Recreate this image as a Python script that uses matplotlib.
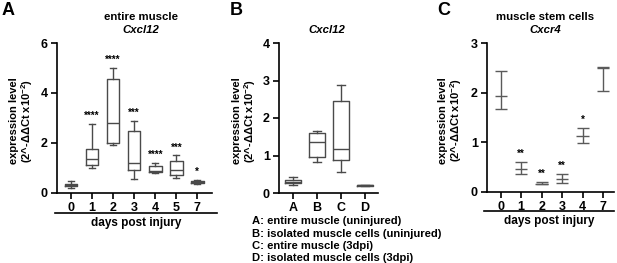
import numpy as np
import matplotlib
matplotlib.use('Agg')
import matplotlib.pyplot as plt

plt.rcParams['font.family'] = ['Liberation Sans', 'DejaVu Sans']
plt.rcParams['font.weight'] = 'bold'
plt.rcParams['mathtext.default'] = 'regular'

# Panel A: entire muscle, Cxcl12 (box plots)
a_days = ['0', '1', '2', '3', '4', '5', '7']
a_wlo = [0.20, 1.00, 1.90, 0.55, 0.80, 0.60, 0.35]
a_q1 = [0.25, 1.12, 2.00, 0.90, 0.82, 0.70, 0.38]
a_med = [0.30, 1.35, 2.78, 1.18, 0.85, 0.92, 0.42]
a_q3 = [0.35, 1.75, 4.55, 2.45, 1.08, 1.28, 0.45]
a_whi = [0.45, 2.75, 5.00, 2.88, 1.20, 1.50, 0.50]
a_stars = ['', '****', '****', '***', '****', '***', '*']

# Panel B: Cxcl12 comparison (box plots)
b_groups = ['A', 'B', 'C', 'D']
b_wlo = [0.22, 0.83, 0.55, 0.19]
b_q1 = [0.27, 0.97, 0.88, 0.20]
b_med = [0.30, 1.35, 1.18, 0.205]
b_q3 = [0.35, 1.60, 2.45, 0.21]
b_whi = [0.42, 1.66, 2.88, 0.22]
b_legend = ['A: entire muscle (uninjured)',
            'B: isolated muscle cells (uninjured)',
            'C: entire muscle (3dpi)',
            'D: isolated muscle cells (3dpi)']

# Panel C: muscle stem cells, Cxcr4 (mean with range)
c_days = ['0', '1', '2', '3', '4', '7']
c_mean = [1.93, 0.47, 0.17, 0.27, 1.12, 2.49]
c_lo = [1.67, 0.37, 0.16, 0.19, 0.98, 2.04]
c_hi = [2.43, 0.61, 0.20, 0.37, 1.29, 2.51]
c_stars = ['', '**', '**', '**', '*', '']

ylab = 'expression level\n(2^-ΔΔCt x10$^{-2}$)'
box_col = '#4a4a4a'
c_col = '#5a5a5a'


def stats(wlo, q1, med, q3, whi):
    return [dict(whislo=w0, q1=a, med=m, q3=b, whishi=w1, fliers=[])
            for w0, a, m, b, w1 in zip(wlo, q1, med, q3, whi)]


def style(ax, labx):
    ax.spines['top'].set_visible(False)
    ax.spines['right'].set_visible(False)
    ax.spines['left'].set_linewidth(1.2)
    ax.spines['bottom'].set_linewidth(1.2)
    ax.tick_params(width=1.2, length=4, labelsize=9, pad=2.5)
    for lab in ax.get_xticklabels() + ax.get_yticklabels():
        lab.set_fontweight('bold')
    ax.set_ylabel(ylab, fontsize=8, fontweight='bold', linespacing=1.0)
    ax.yaxis.set_label_coords(labx, 0.48)


def underline(ax, x0, x1, y, label):
    ax.plot([x0, x1], [y, y], transform=ax.transAxes, color='black',
            lw=1.2, clip_on=False)
    ax.text((x0 + x1) / 2, y - 0.025, label, transform=ax.transAxes,
            ha='center', va='top', fontsize=8.5, fontweight='bold')


def titles(ax, xc, top, bottom):
    if top:
        ax.text(xc, 1.155, top, transform=ax.transAxes, ha='center',
                fontsize=8.2, fontweight='bold')
    ax.text(xc, 1.065, bottom, transform=ax.transAxes, ha='center',
            fontsize=8.2, fontweight='bold', style='italic')


fig = plt.figure(figsize=(6.17, 2.63), dpi=100)

# ---- A
axA = fig.add_axes([57 / 617, 1 - 192.5 / 263, 155 / 617, 149.5 / 263])
pos = np.arange(len(a_days))
lp = dict(color=box_col, lw=1.0)
axA.bxp(stats(a_wlo, a_q1, a_med, a_q3, a_whi), positions=pos, widths=0.6,
        boxprops=lp, whiskerprops=lp, capprops=lp, medianprops=lp,
        capwidths=0.3, showfliers=False)
for x, top, s in zip(pos, a_whi, a_stars):
    if s:
        axA.annotate(s, (x, top), xytext=(0, 2), textcoords='offset points',
                     ha='center', va='bottom', fontsize=7, fontweight='bold')
axA.set_xlim(-0.67, 6.7)
axA.set_ylim(0, 6)
axA.set_yticks([0, 2, 4, 6])
axA.set_xticks(pos)
axA.set_xticklabels(a_days)
style(axA, -0.142)
underline(axA, -0.01, 1.03, -0.14, 'days post injury')
titles(axA, 0.54, 'entire muscle', 'Cxcl12')

# ---- B
axB = fig.add_axes([279 / 617, 1 - 193 / 263, 99 / 617, 150 / 263])
pos = np.arange(len(b_groups))
axB.bxp(stats(b_wlo, b_q1, b_med, b_q3, b_whi), positions=pos, widths=0.65,
        boxprops=lp, whiskerprops=lp, capprops=lp, medianprops=lp,
        capwidths=0.33, showfliers=False)
axB.set_xlim(-0.58, 3.54)
axB.set_ylim(0, 4)
axB.set_yticks([0, 1, 2, 3, 4])
axB.set_xticks(pos)
axB.set_xticklabels(b_groups)
style(axB, -0.212)
titles(axB, 0.48, None, 'Cxcl12')
for i, line in enumerate(b_legend):
    fig.text(252 / 617, 1 - (221.5 + 12.2 * i) / 263, line, ha='left',
             va='center', fontsize=8.1, fontweight='bold')

# ---- C
axC = fig.add_axes([487 / 617, 1 - 192 / 263, 127 / 617, 149 / 263])
pos = np.arange(len(c_days))
cm = np.array(c_mean)
axC.errorbar(pos, cm, yerr=[cm - np.array(c_lo), np.array(c_hi) - cm],
             fmt='none', ecolor=c_col, elinewidth=1.0, capsize=4, capthick=1.0)
axC.hlines(cm, pos - 0.3, pos + 0.3, color=c_col, lw=1.0)
for x, top, s in zip(pos, c_hi, c_stars):
    if s:
        axC.annotate(s, (x, top), xytext=(0, 2), textcoords='offset points',
                     ha='center', va='bottom', fontsize=7, fontweight='bold')
axC.set_xlim(-0.67, 5.54)
axC.set_ylim(0, 3)
axC.set_yticks([0, 1, 2, 3])
axC.set_xticks(pos)
axC.set_xticklabels(c_days)
style(axC, -0.181)
underline(axC, -0.02, 1.0, -0.13, 'days post injury')
titles(axC, 0.46, 'muscle stem cells', 'Cxcr4')

# panel letters
for x, letter in [(2, 'A'), (230, 'B'), (437, 'C')]:
    fig.text(x / 617, 1 - 2 / 263, letter, ha='left', va='top',
             fontsize=13, fontweight='bold')

fig.savefig('out.png', dpi=100)
